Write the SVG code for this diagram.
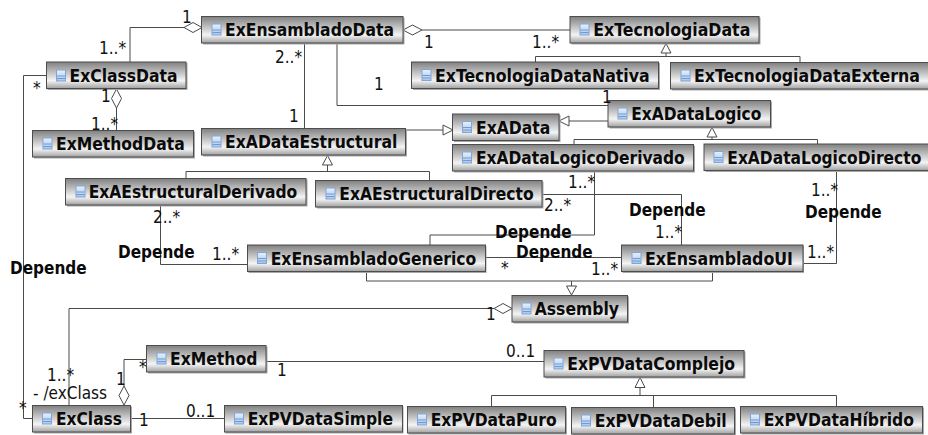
<svg xmlns="http://www.w3.org/2000/svg" width="928" height="435" viewBox="0 0 928 435">
<style>
.box{fill:url(#g);stroke:#4d4d4d;stroke-width:1}
.sh{fill:#a8a8a8}
.n{font-family:"DejaVu Sans",sans-serif;font-weight:bold;font-size:17.500px;font-stretch:condensed;fill:#0a0a0a}
.c{fill:none;stroke:#4a4a4a;stroke-width:1}
.h{fill:#fff;stroke:#4a4a4a;stroke-width:1}
.m{font-family:"DejaVu Sans",sans-serif;font-size:17px;font-stretch:condensed;fill:#111}
.d{font-family:"DejaVu Sans",sans-serif;font-weight:bold;font-size:17px;font-stretch:condensed;fill:#0a0a0a}
</style>
<defs>
<linearGradient id="g" x1="0" y1="0" x2="0" y2="1">
<stop offset="0" stop-color="#808080"/><stop offset=".7" stop-color="#f4f4f4"/><stop offset="1" stop-color="#a0a0a0"/>
</linearGradient>
<linearGradient id="ig" x1="0" y1="0" x2="0" y2="1">
<stop offset="0" stop-color="#e8f0fa"/><stop offset="1" stop-color="#a9c6ea"/>
</linearGradient>
<g id="i"><rect x="0.5" y="0.5" width="9" height="11" fill="url(#ig)" stroke="#7ea6d8"/><path d="M1 6.5H9M1 9H9" stroke="#6f9bd4" fill="none"/></g>
</defs>
<g id="connectors">
<path class="c" d="M130 62V27.5H184"/>
<path class="c" d="M422 30H570"/>
<path class="c" d="M666 53V56.5M535.5 62V56.5H800V62"/>
<path class="c" d="M337 43V105.5H608"/>
<path class="c" d="M304.500 43V128"/>
<path class="c" d="M116.500 108V130"/>
<path class="c" d="M46 75.500H23.500V418.500H32"/>
<path class="c" d="M405 130H443"/>
<path class="c" d="M608 121H569"/>
<path class="c" d="M327.500 165V171.500M186 178V171.500H429.500V180"/>
<path class="c" d="M712 137V139.500M574 144V139.500H817.500V144"/>
<path class="c" d="M160.500 205V264.500H247"/>
<path class="c" d="M542 194.500H681.500V245"/>
<path class="c" d="M594.500 171V235H430V245"/>
<path class="c" d="M485 257.500H621"/>
<path class="c" d="M836.500 170V263.500H803"/>
<path class="c" d="M366.500 272V281H712.500V272M571.500 281V286"/>
<path class="c" d="M69 405V308.500H494"/>
<path class="c" d="M146.500 359.500H124V386"/>
<path class="c" d="M266 361.500H544"/>
<path class="c" d="M130.500 418.500H224"/>
<path class="c" stroke-width="2" d="M640 387V395"/>
<path class="c" d="M491.500 407V395.500H836.500V407M653.500 395.500V407"/>
<path class="h" d="M202 27.500L193 22.500L184 27.500L193 32.500Z"/>
<path class="h" d="M403 30L412.500 25L422 30L412.500 35Z"/>
<path class="h" d="M116.500 89L121.500 98.500L116.500 108L111.500 98.500Z"/>
<path class="h" d="M124 405L119 395.500L124 386L129 395.500Z"/>
<path class="h" d="M512 308.500L503 303.500L494 308.500L503 313.500Z"/>
<path class="h" d="M666 43.500L671 53H661Z"/>
<path class="h" d="M453 130L443 125V135Z"/>
<path class="h" d="M559 121L569 116V126Z"/>
<path class="h" d="M327.500 155.500L332.500 165H322.500Z"/>
<path class="h" d="M712 127.500L717 137H707Z"/>
<path class="h" d="M571.500 295L566.500 286H576.500Z"/>
<path class="h" d="M640 377.500L645 387.500H635Z"/>
</g>
<g id="ExEnsambladoData"><rect class="sh" x="203" y="17.500" width="201.500" height="27"/><rect class="box" x="201.500" y="16.500" width="201.500" height="26.500"/><use href="#i" x="211.500" y="23.500"/><text class="n" x="225" y="35.500" textLength="169" lengthAdjust="spacingAndGlyphs">ExEnsambladoData</text></g>
<g id="ExClassData"><rect class="sh" x="47.500" y="63" width="140" height="27"/><rect class="box" x="46.500" y="62" width="139.500" height="26.500"/><use href="#i" x="56" y="69.500"/><text class="n" x="69.500" y="81.500" textLength="108" lengthAdjust="spacingAndGlyphs">ExClassData</text></g>
<g id="ExMethodData"><rect class="sh" x="34" y="131.500" width="161" height="27"/><rect class="box" x="32.500" y="130.500" width="161" height="26.500"/><use href="#i" x="42.500" y="137.500"/><text class="n" x="56" y="150" textLength="128.700" lengthAdjust="spacingAndGlyphs">ExMethodData</text></g>
<g id="ExADataEstructural"><rect class="sh" x="203" y="129.500" width="204" height="27"/><rect class="box" x="201.500" y="128.500" width="204" height="26.500"/><use href="#i" x="211.500" y="135.500"/><text class="n" x="225" y="148" textLength="172.300" lengthAdjust="spacingAndGlyphs">ExADataEstructural</text></g>
<g id="ExAEstructuralDerivado"><rect class="sh" x="67" y="179.500" width="240.500" height="27"/><rect class="box" x="65.500" y="178.500" width="240.500" height="26.500"/><use href="#i" x="75.500" y="185.500"/><text class="n" x="88.700" y="198" textLength="208.600" lengthAdjust="spacingAndGlyphs">ExAEstructuralDerivado</text></g>
<g id="ExAEstructuralDirecto"><rect class="sh" x="317" y="181.500" width="226.500" height="27"/><rect class="box" x="315.500" y="180.500" width="226.500" height="26.500"/><use href="#i" x="325.500" y="187.500"/><text class="n" x="339.300" y="200" textLength="194.400" lengthAdjust="spacingAndGlyphs">ExAEstructuralDirecto</text></g>
<g id="ExTecnologiaData"><rect class="sh" x="571.500" y="17.500" width="189" height="27"/><rect class="box" x="570" y="16.500" width="189" height="26.500"/><use href="#i" x="579.500" y="23.500"/><text class="n" x="593.300" y="35.500" textLength="157" lengthAdjust="spacingAndGlyphs">ExTecnologiaData</text></g>
<g id="ExTecnologiaDataNativa"><rect class="sh" x="413" y="63" width="247" height="27"/><rect class="box" x="411.500" y="62" width="247" height="26.500"/><use href="#i" x="421.500" y="69"/><text class="n" x="435" y="81.500" textLength="214.700" lengthAdjust="spacingAndGlyphs">ExTecnologiaDataNativa</text></g>
<g id="ExTecnologiaDataExterna"><rect class="sh" x="672" y="63.500" width="260" height="27"/><rect class="box" x="670.500" y="62.500" width="260" height="26.500"/><use href="#i" x="680.500" y="69.500"/><text class="n" x="694" y="82" textLength="226" lengthAdjust="spacingAndGlyphs">ExTecnologiaDataExterna</text></g>
<g id="ExADataLogico"><rect class="sh" x="609.500" y="101.500" width="162.500" height="27"/><rect class="box" x="608" y="100.500" width="162.500" height="26.500"/><use href="#i" x="617.500" y="107.500"/><text class="n" x="631.300" y="120" textLength="130" lengthAdjust="spacingAndGlyphs">ExADataLogico</text></g>
<g id="ExAData"><rect class="sh" x="454" y="115" width="106.500" height="27"/><rect class="box" x="452.500" y="114" width="106.500" height="26.500"/><use href="#i" x="462" y="121"/><text class="n" x="476" y="133.500" textLength="74.300" lengthAdjust="spacingAndGlyphs">ExAData</text></g>
<g id="ExADataLogicoDerivado"><rect class="sh" x="454" y="145.500" width="241" height="27"/><rect class="box" x="452.500" y="144.500" width="241" height="26.500"/><use href="#i" x="462" y="151.500"/><text class="n" x="476" y="164" textLength="208.700" lengthAdjust="spacingAndGlyphs">ExADataLogicoDerivado</text></g>
<g id="ExADataLogicoDirecto"><rect class="sh" x="705.500" y="145" width="226" height="27"/><rect class="box" x="704" y="144" width="226" height="26.500"/><use href="#i" x="713.500" y="151"/><text class="n" x="727.300" y="163.500" textLength="194" lengthAdjust="spacingAndGlyphs">ExADataLogicoDirecto</text></g>
<g id="ExEnsambladoGenerico"><rect class="sh" x="248.500" y="246" width="238" height="27"/><rect class="box" x="247.500" y="245" width="238" height="26.500"/><use href="#i" x="257" y="252"/><text class="n" x="270.700" y="264.500" textLength="205.600" lengthAdjust="spacingAndGlyphs">ExEnsambladoGenerico</text></g>
<g id="ExEnsambladoUI"><rect class="sh" x="622.500" y="246" width="181.500" height="27"/><rect class="box" x="621.500" y="245" width="181.500" height="26.500"/><use href="#i" x="631.500" y="252"/><text class="n" x="645" y="264.500" textLength="148" lengthAdjust="spacingAndGlyphs">ExEnsambladoUI</text></g>
<g id="Assembly"><rect class="sh" x="513.500" y="296.500" width="115.500" height="27"/><rect class="box" x="512" y="295.500" width="115.500" height="26.500"/><use href="#i" x="521.500" y="302.500"/><text class="n" x="534.700" y="315" textLength="84.300" lengthAdjust="spacingAndGlyphs">Assembly</text></g>
<g id="ExMethod"><rect class="sh" x="148" y="346.500" width="119.500" height="27"/><rect class="box" x="146.500" y="345.500" width="119.500" height="26.500"/><use href="#i" x="156.500" y="352.500"/><text class="n" x="170" y="365" textLength="87.300" lengthAdjust="spacingAndGlyphs">ExMethod</text></g>
<g id="ExPVDataComplejo"><rect class="sh" x="545.500" y="351.500" width="200" height="27"/><rect class="box" x="544" y="350.500" width="200" height="26.500"/><use href="#i" x="553.500" y="357.500"/><text class="n" x="567.300" y="370" textLength="167.700" lengthAdjust="spacingAndGlyphs">ExPVDataComplejo</text></g>
<g id="ExClass"><rect class="sh" x="34" y="406.500" width="98" height="27"/><rect class="box" x="32.500" y="405.500" width="98" height="26.500"/><use href="#i" x="42" y="412.500"/><text class="n" x="56" y="425" textLength="66" lengthAdjust="spacingAndGlyphs">ExClass</text></g>
<g id="ExPVDataSimple"><rect class="sh" x="225.500" y="406.500" width="178" height="27"/><rect class="box" x="224.500" y="405.500" width="178" height="26.500"/><use href="#i" x="234" y="412.500"/><text class="n" x="247.700" y="425" textLength="145.300" lengthAdjust="spacingAndGlyphs">ExPVDataSimple</text></g>
<g id="ExPVDataPuro"><rect class="sh" x="408.500" y="407.500" width="158.500" height="27"/><rect class="box" x="407.500" y="406.500" width="158" height="26.500"/><use href="#i" x="417" y="413.500"/><text class="n" x="430.700" y="426" textLength="126" lengthAdjust="spacingAndGlyphs">ExPVDataPuro</text></g>
<g id="ExPVDataDebil"><rect class="sh" x="572.500" y="408.500" width="163.500" height="27"/><rect class="box" x="571.500" y="407.500" width="163" height="26.500"/><use href="#i" x="581" y="414.500"/><text class="n" x="594.700" y="427" textLength="132" lengthAdjust="spacingAndGlyphs">ExPVDataDebil</text></g>
<g id="ExPVDataHibrido"><rect class="sh" x="741.500" y="407.500" width="182.500" height="27"/><rect class="box" x="740.500" y="406.500" width="182" height="26.500"/><use href="#i" x="750" y="413.500"/><text class="n" x="763.700" y="426" textLength="150.300" lengthAdjust="spacingAndGlyphs">ExPVDataHíbrido</text></g>
<g id="labels">
<text class="m" x="182" y="23">1</text>
<text class="m" x="99" y="54">1..*</text>
<text class="m" x="33" y="94">*</text>
<text class="m" x="101" y="102">1</text>
<text class="m" x="91" y="130">1..*</text>
<text class="m" x="275" y="63">2..*</text>
<text class="m" x="289" y="122">1</text>
<text class="m" x="424" y="48">1</text>
<text class="m" x="532" y="48">1..*</text>
<text class="m" x="374" y="90">1</text>
<text class="m" x="602" y="103">1</text>
<text class="m" x="568" y="188">1..*</text>
<text class="m" x="544" y="211">2..*</text>
<text class="m" x="153" y="223">2..*</text>
<text class="m" x="212" y="260">1..*</text>
<text class="m" x="655" y="238">1..*</text>
<text class="m" x="811" y="196">1..*</text>
<text class="m" x="807" y="258">1..*</text>
<text class="m" x="501" y="274">*</text>
<text class="m" x="591" y="275">1..*</text>
<text class="m" x="486" y="320">1</text>
<text class="m" x="506" y="357">0..1</text>
<text class="m" x="277" y="376">1</text>
<text class="m" x="139" y="373">*</text>
<text class="m" x="116" y="385">1</text>
<text class="m" x="47" y="381">1..*</text>
<text class="m" x="33" y="399">- /exClass</text>
<text class="m" x="19" y="414">*</text>
<text class="m" x="139" y="426">1</text>
<text class="m" x="186" y="417">0..1</text>
<text class="d" x="629" y="216">Depende</text>
<text class="d" x="805" y="218">Depende</text>
<text class="d" x="118" y="258">Depende</text>
<text class="d" x="10" y="274">Depende</text>
<text class="d" x="495" y="238">Depende</text>
<text class="d" x="516" y="258">Depende</text>
</g>
</svg>
